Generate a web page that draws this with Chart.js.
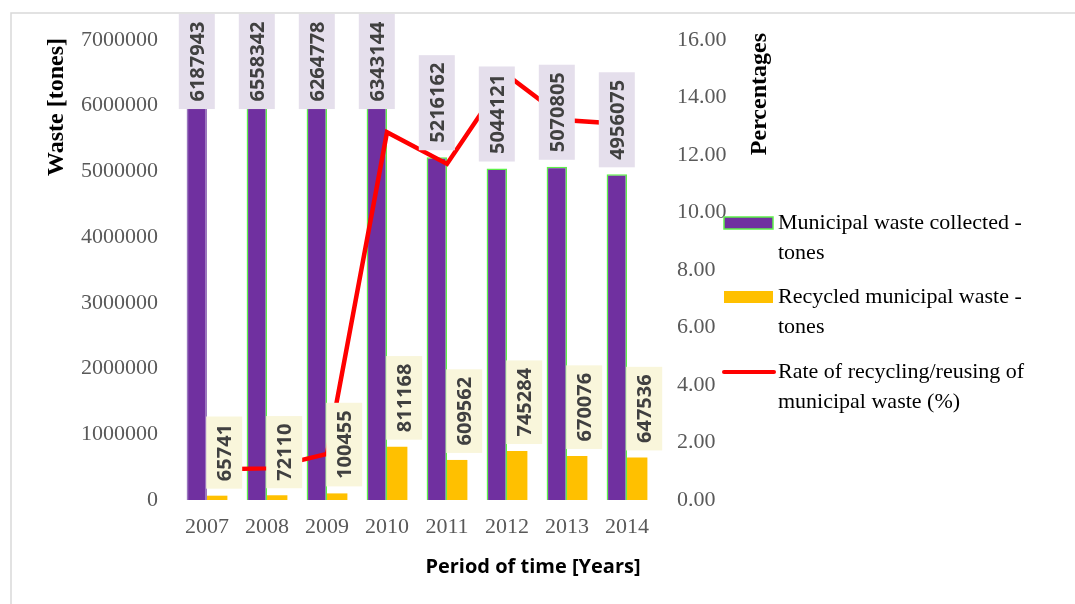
<!DOCTYPE html>
<html>
<head>
<meta charset="utf-8">
<script src="https://cdn.jsdelivr.net/npm/chart.js@4.4.1/dist/chart.umd.min.js"></script>
<style>
  html, body { margin: 0; padding: 0; background: #fff; }
  #chart-cont { display: block; }
</style>
</head>
<body>
<canvas id="chart-cont" width="1075" height="604"></canvas>
<script>
// Data
var years = ['2007', '2008', '2009', '2010', '2011', '2012', '2013', '2014'];
var collected = [6187943, 6558342, 6264778, 6343144, 5216162, 5044121, 5070805, 4956075];
var recycled = [65741, 72110, 100455, 811168, 609562, 745284, 670076, 647536];
var rate = [1.06, 1.10, 1.60, 12.79, 11.69, 14.78, 13.21, 13.07];

var seriesNames = [
    ['Municipal waste collected -', 'tones'],
    ['Recycled municipal waste -', 'tones'],
    ['Rate of recycling/reusing of', 'municipal waste (%)']
];

var tickFont = { family: '"Liberation Serif", "Times New Roman", serif', size: 22 };
var tickColor = '#595959';

// frame, axis titles, value labels and the wrapped legend
var extras = {
    id: 'extras',
    beforeDraw: function (chart) {
        var ctx = chart.ctx;
        ctx.save();
        ctx.strokeStyle = '#d9d9d9';
        ctx.lineWidth = 1.5;
        ctx.beginPath();
        ctx.moveTo(11, 604);
        ctx.lineTo(11, 13);
        ctx.lineTo(1075, 13);
        ctx.stroke();
        ctx.restore();
    },
    afterDatasetsDraw: function (chart) {
        var ctx = chart.ctx;
        ctx.save();
        ctx.font = 'bold 20px "Open Sans"';
        var bgs = ['#e5dfec', '#f9f6db'];
        [0, 1].forEach(function (di) {
            var meta = chart.getDatasetMeta(di);
            meta.data.forEach(function (bar, i) {
                var txt = String(chart.data.datasets[di].data[i]);
                var w = ctx.measureText(txt).width;
                var boxH = w + 15, boxW = 36;
                var cx = bar.x + (di === 1 ? 7 : 0);
                var bottom = bar.y - 7;
                var top = bottom - boxH;
                if (top < 14) { top = 14; bottom = top + boxH; }
                ctx.fillStyle = bgs[di];
                ctx.fillRect(cx - boxW / 2, top, boxW, boxH);
                ctx.save();
                ctx.translate(cx, top + boxH / 2);
                ctx.rotate(-Math.PI / 2);
                ctx.fillStyle = '#404040';
                ctx.textAlign = 'center';
                ctx.textBaseline = 'middle';
                ctx.fillText(txt, 0, 1);
                ctx.restore();
            });
        });
        ctx.restore();
    },
    afterDraw: function (chart) {
        var ctx = chart.ctx;
        var area = chart.chartArea;
        var right = chart.scales.y1;
        ctx.save();

        // y axis titles, both reading bottom to top
        ctx.fillStyle = '#000';
        ctx.font = 'bold 24px "Liberation Serif"';
        ctx.textBaseline = 'middle';
        ctx.textAlign = 'right';
        ctx.save();
        ctx.translate(57, area.top - 2);
        ctx.rotate(-Math.PI / 2);
        ctx.fillText('Waste [tones]', 0, 0);
        ctx.restore();
        ctx.save();
        ctx.translate(right.left + 103, area.top - 7);
        ctx.rotate(-Math.PI / 2);
        ctx.fillText('Percentages', 0, 0);
        ctx.restore();

        // x axis title
        ctx.font = 'bold 20px "Open Sans"';
        ctx.textAlign = 'center';
        ctx.fillText('Period of time [Years]', 533, 567);

        // legend
        var lx = right.left + 67;
        var ys = [223, 297, 372];
        ctx.font = '22px "Liberation Serif"';
        ctx.textAlign = 'left';
        chart.data.datasets.forEach(function (ds, k) {
            var y = ys[k];
            if (ds.type === 'line') {
                ctx.strokeStyle = ds.borderColor;
                ctx.lineWidth = 4;
                ctx.lineCap = 'round';
                ctx.beginPath();
                ctx.moveTo(lx, y);
                ctx.lineTo(lx + 50, y);
                ctx.stroke();
            } else {
                ctx.fillStyle = ds.backgroundColor;
                ctx.fillRect(lx, y - 6, 49, 12);
                if (k === 0) {
                    ctx.strokeStyle = '#5ef04a';
                    ctx.lineWidth = 1.5;
                    ctx.strokeRect(lx, y - 6, 49, 12);
                }
            }
            ctx.fillStyle = '#000';
            seriesNames[k].forEach(function (line, j) {
                ctx.fillText(line, lx + 54, y + j * 30);
            });
        });
        ctx.restore();
    }
};

var canvasElement = document.getElementById('chart-cont').getContext('2d');

var config = {
    type: 'bar',
    data: {
        labels: years,
        datasets: [{
            label: seriesNames[0].join(' '),
            data: collected,
            backgroundColor: '#7030a0',
            borderColor: ['#9a78bd', '#5ef04a', '#5ef04a', '#5ef04a', '#5ef04a', '#5ef04a', '#5ef04a', '#5ef04a'],
            borderWidth: 1.5,
            yAxisID: 'y',
            order: 1
        }, {
            label: seriesNames[1].join(' '),
            data: recycled,
            backgroundColor: '#ffc000',
            borderWidth: 0,
            yAxisID: 'y',
            order: 1
        }, {
            type: 'line',
            label: seriesNames[2].join(' '),
            data: rate,
            borderColor: '#ff0000',
            borderWidth: 4.5,
            pointRadius: 0,
            tension: 0,
            yAxisID: 'y1',
            order: 0
        }]
    },
    plugins: [extras],
    options: {
        responsive: false,
        animation: false,
        layout: { padding: { top: 40, left: 0, right: 0, bottom: 0 } },
        datasets: {
            bar: { categoryPercentage: 0.68, barPercentage: 1 }
        },
        plugins: {
            legend: { display: false },
            tooltip: { enabled: false }
        },
        scales: {
            x: {
                grid: { display: false, drawTicks: false },
                border: { display: false },
                ticks: { font: tickFont, color: tickColor, padding: 14 },
                afterFit: function (s) { s.height = 104; }
            },
            y: {
                position: 'left',
                min: 0,
                max: 7000000,
                grid: { display: false, drawTicks: false },
                border: { display: false },
                ticks: {
                    stepSize: 1000000,
                    font: tickFont,
                    color: tickColor,
                    padding: 19,
                    callback: function (v) { return String(v); }
                },
                afterFit: function (s) { s.width = 177; }
            },
            y1: {
                position: 'right',
                min: 0,
                max: 16,
                grid: { display: false, drawTicks: false },
                border: { display: false },
                ticks: {
                    stepSize: 2,
                    font: tickFont,
                    color: tickColor,
                    padding: 20,
                    callback: function (v) { return v.toFixed(2); }
                },
                afterFit: function (s) { s.width = 418; }
            }
        }
    }
};

var chart = new Chart(canvasElement, config);
</script>
</body>
</html>
